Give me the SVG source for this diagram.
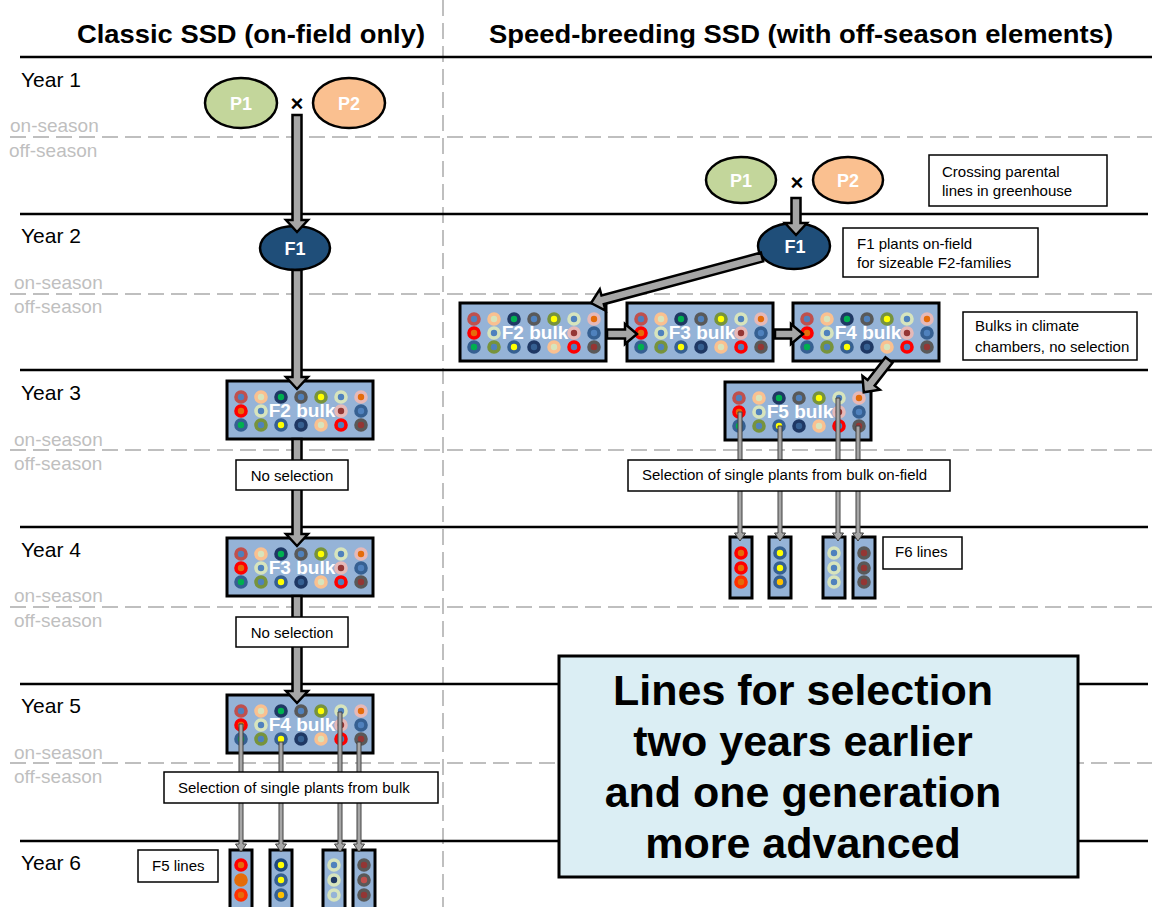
<svg xmlns="http://www.w3.org/2000/svg" xmlns:xlink="http://www.w3.org/1999/xlink" width="1152" height="907" viewBox="0 0 1152 907">
<style>
text{font-family:"Liberation Sans",Arial,sans-serif;}
.hdr{font-size:26px;font-weight:bold;fill:#000;}
.yr{font-size:21px;fill:#000;}
.ssn{font-size:19px;fill:#BFBFBF;}
.yl{stroke:#000;stroke-width:2.5;}
.dl{stroke:#BFBFBF;stroke-width:2;stroke-dasharray:16 7;fill:none;}
.par{stroke:#000;stroke-width:2.5;}
.pt{font-size:18px;font-weight:bold;fill:#fff;text-anchor:middle;}
.x{font-size:22px;font-weight:bold;fill:#000;text-anchor:middle;}
.bulk{fill:#95B3D7;stroke:#000;stroke-width:3;}
.bt{font-size:19px;font-weight:bold;fill:#fff;text-anchor:middle;}
.box{fill:#fff;stroke:#000;stroke-width:1.5;}
.lt{font-size:15px;fill:#000;}
.ba{fill:#A6A6A6;stroke:#000;stroke-width:2.5;stroke-linejoin:miter;}
.ta{fill:#A6A6A6;stroke:#404040;stroke-width:1;}
.big{fill:#DBEEF4;stroke:#000;stroke-width:3;}
.bigt{font-size:43px;font-weight:bold;fill:#000;text-anchor:middle;}
.d circle{stroke-width:3.6;}
</style>
<defs>
<g id="bd" class="d">
<circle cx="14" cy="16" r="5" fill="#4F81BD" stroke="#C0504D"/>
<circle cx="34" cy="16" r="5" fill="#D7E4BD" stroke="#FAC090"/>
<circle cx="54" cy="16" r="5" fill="#00B050" stroke="#1F3864"/>
<circle cx="74" cy="16" r="5" fill="#4F81BD" stroke="#595959"/>
<circle cx="94" cy="16" r="5" fill="#FFFF00" stroke="#77933C"/>
<circle cx="114" cy="16" r="5" fill="#4F81BD" stroke="#D7E4BD"/>
<circle cx="134" cy="16" r="5" fill="#E46C0A" stroke="#E6B9B8"/>
<circle cx="14" cy="30" r="5" fill="#E46C0A" stroke="#FF0000"/>
<circle cx="34" cy="30" r="5" fill="#4F81BD" stroke="#D7E4BD"/>
<circle cx="114" cy="30" r="5" fill="#943634" stroke="#E6B9B8"/>
<circle cx="134" cy="30" r="5" fill="#4F81BD" stroke="#366092"/>
<circle cx="14" cy="44" r="5" fill="#00B050" stroke="#366092"/>
<circle cx="34" cy="44" r="5" fill="#4F81BD" stroke="#77933C"/>
<circle cx="54" cy="44" r="5" fill="#FFFF00" stroke="#366092"/>
<circle cx="74" cy="44" r="5" fill="#366092" stroke="#1F3864"/>
<circle cx="94" cy="44" r="5" fill="#D7E4BD" stroke="#FAC090"/>
<circle cx="114" cy="44" r="5" fill="#4F81BD" stroke="#FF0000"/>
<circle cx="134" cy="44" r="5" fill="#943634" stroke="#595959"/>
</g>
</defs>

<g id="background">
<line class="dl" x1="443" y1="0" x2="443" y2="907"/>
<line class="dl" x1="10" y1="137" x2="1152" y2="137"/>
<line class="dl" x1="10" y1="294" x2="1152" y2="294"/>
<line class="dl" x1="10" y1="450" x2="1152" y2="450"/>
<line class="dl" x1="10" y1="607" x2="1152" y2="607"/>
<line class="dl" x1="10" y1="763" x2="1152" y2="763"/>
<line class="yl" x1="20" y1="57" x2="1152" y2="57" stroke-width="3"/>
<line class="yl" x1="20" y1="214" x2="1148" y2="214"/>
<line class="yl" x1="20" y1="370" x2="1148" y2="370"/>
<line class="yl" x1="20" y1="527" x2="1148" y2="527"/>
<line class="yl" x1="20" y1="684" x2="1148" y2="684"/>
<line class="yl" x1="20" y1="841" x2="1148" y2="841"/>
<text class="hdr" x="77" y="43" textLength="348" lengthAdjust="spacingAndGlyphs">Classic SSD (on-field only)</text>
<text class="hdr" x="489" y="43" textLength="624" lengthAdjust="spacingAndGlyphs">Speed-breeding SSD (with off-season elements)</text>
<text class="yr" x="21" y="87">Year 1</text>
<text class="yr" x="21" y="243">Year 2</text>
<text class="yr" x="21" y="400">Year 3</text>
<text class="yr" x="21" y="557">Year 4</text>
<text class="yr" x="21" y="713">Year 5</text>
<text class="yr" x="21" y="870">Year 6</text>
<text class="ssn" x="10" y="132">on-season</text>
<text class="ssn" x="9" y="157">off-season</text>
<text class="ssn" x="14" y="289">on-season</text>
<text class="ssn" x="14" y="313">off-season</text>
<text class="ssn" x="14" y="446">on-season</text>
<text class="ssn" x="14" y="470">off-season</text>
<text class="ssn" x="14" y="602">on-season</text>
<text class="ssn" x="14" y="627">off-season</text>
<text class="ssn" x="14" y="759">on-season</text>
<text class="ssn" x="14" y="783">off-season</text>
</g>

<g id="result-box">
<rect class="big" x="559" y="656" width="519" height="221"/>
<text class="bigt" x="803" y="705">Lines for selection</text>
<text class="bigt" x="803" y="756">two years earlier</text>
<text class="bigt" x="803" y="807">and one generation</text>
<text class="bigt" x="803" y="858">more advanced</text>
</g>

<g id="left-P1"><ellipse class="par" cx="241" cy="103" rx="36" ry="25" fill="#C3D69B"/><text class="pt" x="241" y="110">P1</text></g>
<g id="left-cross"><text class="x" x="297" y="111">×</text></g>
<g id="left-P2"><ellipse class="par" cx="349" cy="103" rx="36" ry="25" fill="#FAC090"/><text class="pt" x="349" y="110">P2</text></g>
<g id="left-F1"><ellipse class="par" cx="295" cy="248" rx="35" ry="22" fill="#1F4E79"/><text class="pt" x="295" y="255">F1</text></g>
<g id="left-F2" transform="translate(227,381)"><rect class="bulk" width="146" height="58"/><use xlink:href="#bd"/><text class="bt" x="75" y="36">F2 bulk</text></g>
<g id="left-F3" transform="translate(227,538)"><rect class="bulk" width="146" height="58"/><use xlink:href="#bd"/><text class="bt" x="75" y="36">F3 bulk</text></g>
<g id="left-F4" transform="translate(227,695)"><rect class="bulk" width="146" height="58"/><use xlink:href="#bd"/><text class="bt" x="75" y="36">F4 bulk</text></g>

<g id="left-F5-lines" class="d">
<rect class="bulk" x="230" y="850" width="22" height="64"/>
<circle cx="241" cy="865" r="5" fill="#E46C0A" stroke="#FF0000"/>
<circle cx="241" cy="880" r="5" fill="#E46C0A" stroke="#E46C0A"/>
<circle cx="241" cy="895" r="5" fill="#E46C0A" stroke="#FF3000"/>
<rect class="bulk" x="270" y="850" width="22" height="64"/>
<circle cx="281" cy="865" r="5" fill="#FFFF00" stroke="#1F497D"/>
<circle cx="281" cy="880" r="5" fill="#FFFF00" stroke="#366092"/>
<circle cx="281" cy="895" r="5" fill="#FFC000" stroke="#366092"/>
<rect class="bulk" x="323" y="850" width="22" height="64"/>
<circle cx="334" cy="865" r="5" fill="#4F81BD" stroke="#D7E4BD"/>
<circle cx="334" cy="880" r="5" fill="#1F3864" stroke="#D7E4BD"/>
<circle cx="334" cy="895" r="5" fill="#95B3D7" stroke="#D7E4BD"/>
<rect class="bulk" x="353" y="850" width="22" height="64"/>
<circle cx="364" cy="865" r="5" fill="#943634" stroke="#595959"/>
<circle cx="364" cy="880" r="5" fill="#C0504D" stroke="#595959"/>
<circle cx="364" cy="895" r="5" fill="#943634" stroke="#595959"/>
</g>

<g id="right-P1"><ellipse class="par" cx="741" cy="180" rx="35" ry="23" fill="#C3D69B"/><text class="pt" x="741" y="187">P1</text></g>
<g id="right-cross"><text class="x" x="797" y="190">×</text></g>
<g id="right-P2"><ellipse class="par" cx="848" cy="180" rx="35" ry="23" fill="#FAC090"/><text class="pt" x="848" y="187">P2</text></g>
<g id="right-F1"><ellipse class="par" cx="794" cy="246" rx="36" ry="23" fill="#1F4E79"/><text class="pt" x="795" y="253">F1</text></g>
<g id="right-F2" transform="translate(460,303)"><rect class="bulk" width="146" height="58"/><use xlink:href="#bd"/><text class="bt" x="75" y="36">F2 bulk</text></g>
<g id="right-F3" transform="translate(627,303)"><rect class="bulk" width="146" height="58"/><use xlink:href="#bd"/><text class="bt" x="75" y="36">F3 bulk</text></g>
<g id="right-F4" transform="translate(793,303)"><rect class="bulk" width="146" height="58"/><use xlink:href="#bd"/><text class="bt" x="75" y="36">F4 bulk</text></g>
<g id="right-F5" transform="translate(725,382)"><rect class="bulk" width="146" height="58"/><use xlink:href="#bd"/><text class="bt" x="75" y="36">F5 bulk</text></g>

<g id="right-F6-lines" class="d">
<rect class="bulk" x="730" y="537" width="22" height="61"/>
<circle cx="741" cy="553" r="5" fill="#E46C0A" stroke="#FF0000"/>
<circle cx="741" cy="568" r="5" fill="#E46C0A" stroke="#FF0000"/>
<circle cx="741" cy="582" r="5" fill="#E46C0A" stroke="#FF3000"/>
<rect class="bulk" x="769" y="537" width="22" height="61"/>
<circle cx="780" cy="553" r="5" fill="#FFFF00" stroke="#366092"/>
<circle cx="780" cy="568" r="5" fill="#FFFF00" stroke="#366092"/>
<circle cx="780" cy="582" r="5" fill="#FFC000" stroke="#366092"/>
<rect class="bulk" x="823" y="537" width="22" height="61"/>
<circle cx="834" cy="553" r="5" fill="#4F81BD" stroke="#D7E4BD"/>
<circle cx="834" cy="568" r="5" fill="#4F81BD" stroke="#D7E4BD"/>
<circle cx="834" cy="582" r="5" fill="#4F81BD" stroke="#D7E4BD"/>
<rect class="bulk" x="853" y="537" width="22" height="61"/>
<circle cx="864" cy="553" r="5" fill="#943634" stroke="#595959"/>
<circle cx="864" cy="568" r="5" fill="#943634" stroke="#595959"/>
<circle cx="864" cy="582" r="5" fill="#943634" stroke="#595959"/>
</g>

<g id="connectors">
<polygon class="ba" transform="translate(297,115) rotate(90)" points="0,-4.5 105,-4.5 105,-11 117,0 105,11 105,4.5 0,4.5"/>
<polygon class="ba" transform="translate(297,270) rotate(90)" points="0,-4.5 107,-4.5 107,-11 119,0 107,11 107,4.5 0,4.5"/>
<polygon class="ba" transform="translate(297,439) rotate(90)" points="0,-4.5 95,-4.5 95,-11 107,0 95,11 95,4.5 0,4.5"/>
<polygon class="ba" transform="translate(297,596) rotate(90)" points="0,-4.5 95,-4.5 95,-11 107,0 95,11 95,4.5 0,4.5"/>
<polygon class="ba" transform="translate(796,198) rotate(90)" points="0,-4.5 25,-4.5 25,-11 37,0 25,11 25,4.5 0,4.5"/>
<polygon class="ba" transform="translate(762,257) rotate(164.94)" points="0,-4.5 165,-4.5 165,-11 177,0 165,11 165,4.5 0,4.5"/>
<polygon class="ba" transform="translate(607,334)" points="0,-4.5 18,-4.5 18,-10 30,0 18,10 18,4.5 0,4.5"/>
<polygon class="ba" transform="translate(775,334)" points="0,-4.5 16,-4.5 16,-10 28,0 16,10 16,4.5 0,4.5"/>
<polygon class="ba" transform="translate(889,360) rotate(128)" points="0,-4.5 29,-4.5 29,-11 41,0 29,11 29,4.5 0,4.5"/>
<polygon class="ta" transform="translate(241,724)" points="-2,0 2,0 2,120 5.5,120 0,128 -5.5,120 -2,120"/>
<polygon class="ta" transform="translate(281,742)" points="-2,0 2,0 2,102 5.5,102 0,110 -5.5,102 -2,102"/>
<polygon class="ta" transform="translate(340,712)" points="-2,0 2,0 2,132 5.5,132 0,140 -5.5,132 -2,132"/>
<polygon class="ta" transform="translate(359,742)" points="-2,0 2,0 2,102 5.5,102 0,110 -5.5,102 -2,102"/>
<polygon class="ta" transform="translate(740,412)" points="-2,0 2,0 2,121 5.5,121 0,129 -5.5,121 -2,121"/>
<polygon class="ta" transform="translate(780,426)" points="-2,0 2,0 2,107 5.5,107 0,115 -5.5,107 -2,107"/>
<polygon class="ta" transform="translate(838,398)" points="-2,0 2,0 2,135 5.5,135 0,143 -5.5,135 -2,135"/>
<polygon class="ta" transform="translate(858,426)" points="-2,0 2,0 2,107 5.5,107 0,115 -5.5,107 -2,107"/>
</g>

<g id="note-no-selection-1"><rect class="box" x="236" y="460" width="112" height="30"/><text class="lt" x="292" y="481" text-anchor="middle">No selection</text></g>
<g id="note-no-selection-2"><rect class="box" x="236" y="617" width="112" height="30"/><text class="lt" x="292" y="638" text-anchor="middle">No selection</text></g>
<g id="note-selection-left"><rect class="box" x="164" y="772" width="274" height="31"/><text class="lt" x="178" y="793">Selection of single plants from bulk</text></g>
<g id="note-F5-lines"><rect class="box" x="138" y="850" width="80" height="32"/><text class="lt" x="152" y="871">F5 lines</text></g>
<g id="note-crossing"><rect class="box" x="929" y="155" width="178" height="51"/><text class="lt" x="942" y="177">Crossing parental</text><text class="lt" x="942" y="196">lines in greenhouse</text></g>
<g id="note-F1"><rect class="box" x="843" y="228" width="195" height="49"/><text class="lt" x="857" y="249">F1 plants on-field</text><text class="lt" x="857" y="268">for sizeable F2-families</text></g>
<g id="note-bulks"><rect class="box" x="963" y="312" width="174" height="48"/><text class="lt" x="975" y="331">Bulks in climate</text><text class="lt" x="975" y="352">chambers, no selection</text></g>
<g id="note-selection-right"><rect class="box" x="628" y="460" width="322" height="31"/><text class="lt" x="642" y="480">Selection of single plants from bulk on-field</text></g>
<g id="note-F6-lines"><rect class="box" x="883" y="537" width="79" height="32"/><text class="lt" x="895" y="557">F6 lines</text></g>
</svg>
